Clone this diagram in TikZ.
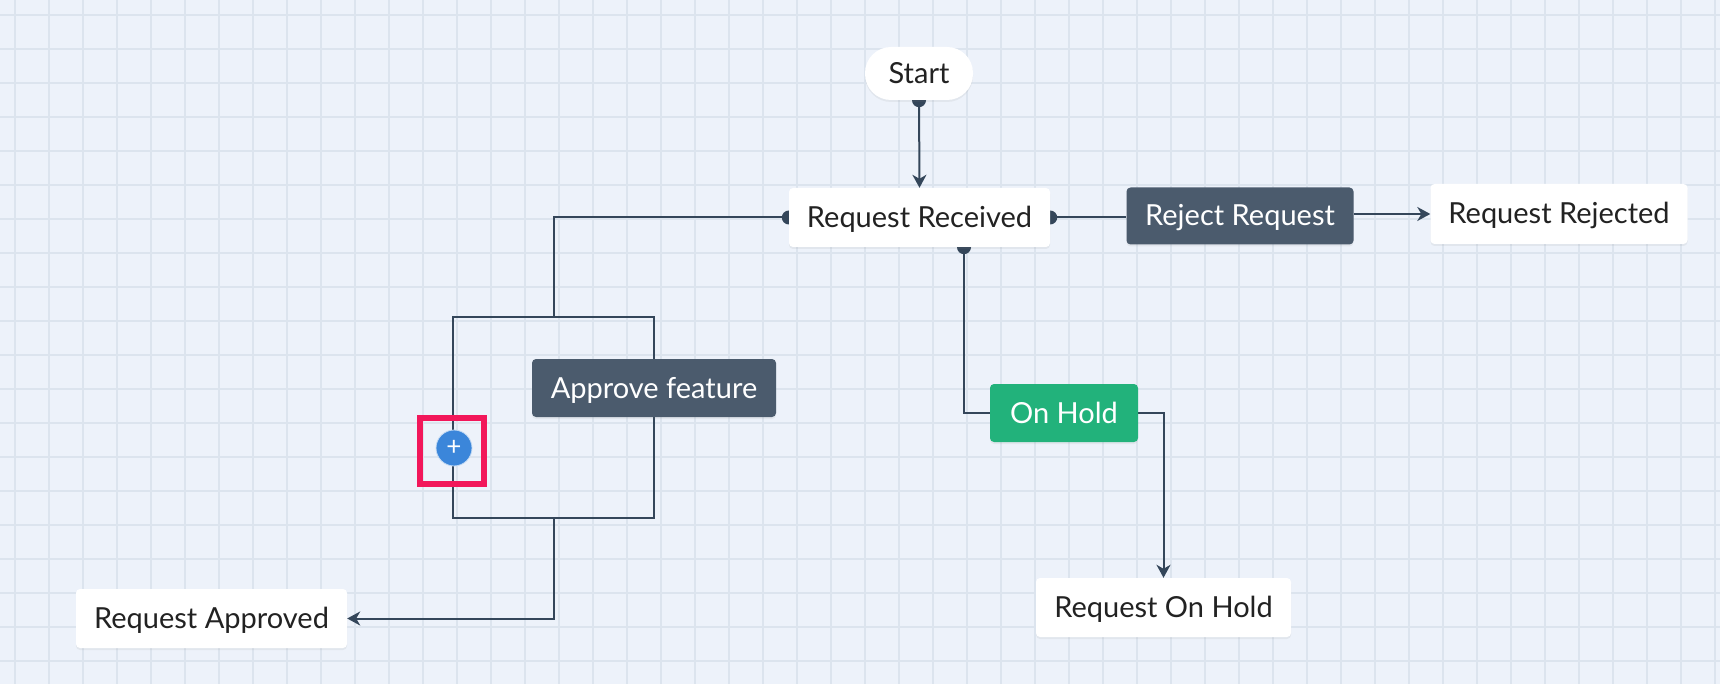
\documentclass[tikz,border=0pt]{standalone}
\usepackage{fontspec}
\setmainfont{Lato}
\usetikzlibrary{arrows.meta,shadows}
\definecolor{bgc}{HTML}{EDF2FA}
\definecolor{gridc}{HTML}{DCE4EE}
\definecolor{darkbox}{HTML}{4B5B6D}
\definecolor{conn}{HTML}{34465A}
\definecolor{holdc}{HTML}{22B27B}
\definecolor{plusc}{HTML}{3B86DA}
\definecolor{markc}{HTML}{F2175A}
\definecolor{txt}{HTML}{222222}
\pgfdeclarelayer{bg}
\pgfdeclarelayer{edges}
\pgfsetlayers{bg,edges,main}
\tikzset{
  basebox/.style={rectangle, rounded corners=4, inner sep=0pt, minimum height=58,
    text height=23, text depth=3,
    font=\fontsize{29}{34}\selectfont, drop shadow={shadow xshift=0pt, shadow yshift=-2pt, opacity=0.10}},
  whitebox/.style={basebox, fill=white, text=txt},
  darkbox/.style={basebox, fill=darkbox, text=white},
  holdbox/.style={basebox, fill=holdc, text=white},
  conn/.style={draw=conn, line width=2},
  arr/.style={conn, -{Stealth[length=13, width=14, inset=4]}},
  portdot/.style={fill=conn},
}
\begin{document}
\begin{tikzpicture}[x=1pt,y=-1pt]
\useasboundingbox (0,0) rectangle (1720,684);
\begin{pgfonlayer}{bg}
  \fill[bgc] (0,0) rectangle (1720,684);
  \foreach \x in {15,49,...,1715} \draw[gridc, line width=2] (\x,0) -- (\x,684);
  \foreach \y in {15,49,...,661} \draw[gridc, line width=2] (0,\y) -- (1720,\y);
\end{pgfonlayer}

% nodes
\node[whitebox, rounded corners=26, minimum width=108, minimum height=53] (start) at (919,73.5) {Start};
\node[whitebox, minimum width=261, minimum height=59] (rr) at (919.5,217.5) {Request Received};
\node[darkbox, minimum width=227, minimum height=57] (rej) at (1240,216) {Reject Request};
\node[whitebox, minimum width=257, minimum height=60] (rejd) at (1559,214) {Request Rejected};
\node[darkbox, minimum width=244, minimum height=58] (appf) at (654,388) {Approve feature};
\node[holdbox, minimum width=148, minimum height=58] (hold) at (1064,413) {On Hold};
\node[whitebox, minimum width=255, minimum height=59] (rhold) at (1163.5,607.5) {Request On Hold};
\node[whitebox, minimum width=271, minimum height=59] (rapp) at (211.5,618.5) {Request Approved};
\node[circle, fill=plusc, draw=white!70!plusc, line width=0.8, minimum size=36, inner sep=0pt,
      text=white, font=\fontsize{26}{26}\selectfont] (plus) at (454,448) {+};
\node[draw=markc, line width=6.5, minimum width=64, minimum height=66, inner sep=0pt] (mark) at (452,451) {};

\coordinate (bxtl) at (453,317);
\coordinate (bxbr) at (654,518);
\coordinate (bxtop) at (554,317);
\coordinate (bxbot) at (554,518);
\coordinate (rrb) at ([xshift=44.5]rr.south);

\begin{pgfonlayer}{edges}
  \fill[portdot] (start.south) circle (7);
  \fill[portdot] (rr.east) circle (7);
  \fill[portdot] (rr.west) circle (7);
  \fill[portdot] (rrb) circle (7);
  \draw[arr] (start.south) -- (rr.north);
  \draw[conn] (rr.east) -- (rr.east -| rej.west);
  \draw[arr] (rej.east |- rejd.west) -- (rejd.west);
  \draw[conn] (rr.west) -| (bxtop);
  \draw[conn] (bxtl) rectangle (bxbr);
  \draw[arr] (bxbot) |- (rapp.east);
  \draw[conn] (rrb) |- (hold.west);
  \draw[arr] (hold.east) -| (rhold.north);
\end{pgfonlayer}
\end{tikzpicture}
\end{document}
